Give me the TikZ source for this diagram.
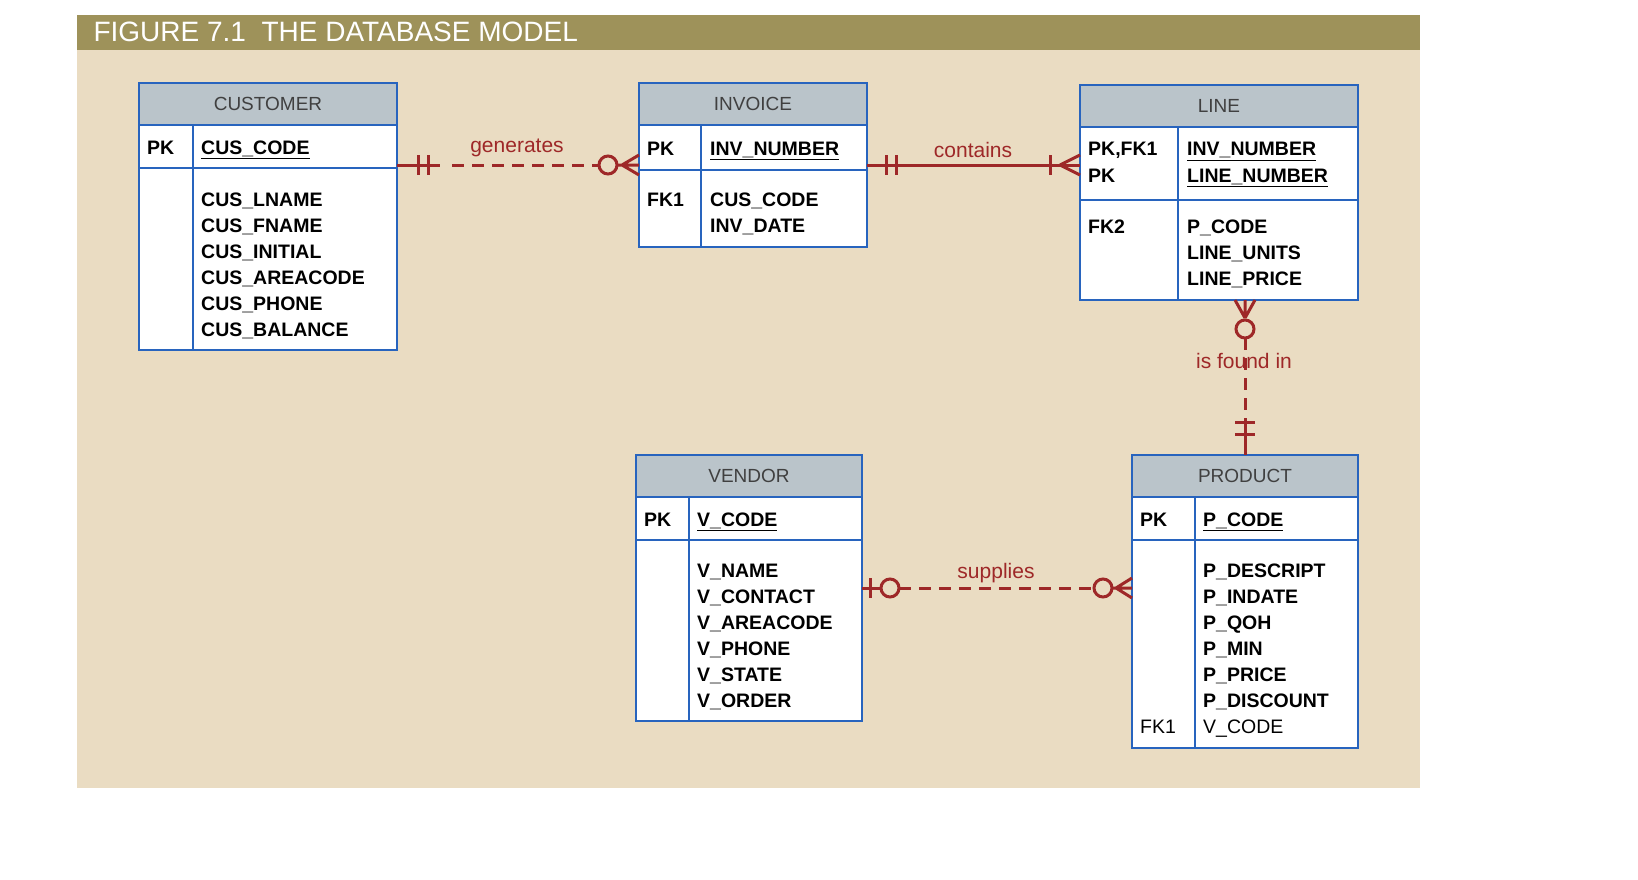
\documentclass[tikz,border=0pt]{standalone}
\usepackage{fontspec}
\setmainfont{Liberation Sans}
\definecolor{beige}{RGB}{234,220,194}
\definecolor{olive}{RGB}{158,146,90}
\definecolor{tblue}{RGB}{40,100,190}
\definecolor{hgray}{RGB}{186,196,202}
\definecolor{relred}{RGB}{158,40,40}
\tikzset{
  tbl/.style={draw=tblue, line width=2.5pt},
  hdr/.style={font=\fontsize{19}{19}\selectfont, text=black!75},
  att/.style={anchor=base west, inner sep=0pt, font=\fontsize{19.5}{20}\selectfont\bfseries},
  rel/.style={draw=relred, line width=3pt},
  reldash/.style={rel, dash pattern=on 12pt off 8pt},
  rlab/.style={text=relred, font=\fontsize{21}{21}\selectfont}
}
% box: name, x1, y1, x2, y2, header bottom, pk bottom, divider x, title
\newcommand{\erbox}[9]{%
  \coordinate (#1-nw) at (#2,#3);
  \coordinate (#1-se) at (#4,#5);
  \fill[white] (#2,#6) rectangle (#4,#5);
  \fill[hgray] (#2,#3) rectangle (#4,#6);
  \draw[tbl] (#2,#3) rectangle (#4,#5);
  \draw[tbl] (#2,#6) -- (#4,#6);
  \draw[tbl] (#2,#7) -- (#4,#7);
  \draw[tbl] (#8,#6) -- (#8,#5);
  \node[hdr] (#1) at ({(#2+#4)/2},{(#3+#6)/2}) {#9};
}
\begin{document}
\begin{tikzpicture}[x=1pt,y=-1pt]
\useasboundingbox (0,0) rectangle (1638,880);
\fill[beige] (77,15) rectangle (1420,788);
\fill[olive] (77,15) rectangle (1420,50);
\node[anchor=west, text=white, font=\fontsize{28}{28}\selectfont] (title) at (90,32) {FIGURE 7.1\ \ THE DATABASE MODEL};

% CUSTOMER
\erbox{cus}{139}{83}{397}{350}{125}{168}{193}{CUSTOMER}
\node[att] at (147,154) {PK};
\node[att] at (201,154) {\underline{CUS\_CODE}};
\foreach \t [count=\i from 0] in {CUS\_LNAME,CUS\_FNAME,CUS\_INITIAL,CUS\_AREACODE,CUS\_PHONE,CUS\_BALANCE}
  \node[att] at (201,206+26*\i) {\t};

% INVOICE
\erbox{inv}{639}{83}{867}{247}{125}{170}{701}{INVOICE}
\node[att] at (647,155) {PK};
\node[att] at (710,155) {\underline{INV\_NUMBER}};
\node[att] at (647,206) {FK1};
\node[att] at (710,206) {CUS\_CODE};
\node[att] at (710,232) {INV\_DATE};

% LINE
\erbox{line}{1080}{85}{1358}{300}{127}{200}{1178}{LINE}
\node[att] at (1088,156) {PK,FK1};
\node[att] at (1088,182) {PK};
\node[att] at (1187,156) {\underline{INV\_NUMBER}};
\node[att] at (1187,182) {\underline{LINE\_NUMBER}};
\node[att] at (1088,233) {FK2};
\foreach \t [count=\i from 0] in {P\_CODE,LINE\_UNITS,LINE\_PRICE}
  \node[att] at (1187,233+26*\i) {\t};

% VENDOR
\erbox{ven}{636}{455}{862}{721}{497}{540}{689}{VENDOR}
\node[att] at (644,526) {PK};
\node[att] at (697,526) {\underline{V\_CODE}};
\foreach \t [count=\i from 0] in {V\_NAME,V\_CONTACT,V\_AREACODE,V\_PHONE,V\_STATE,V\_ORDER}
  \node[att] at (697,577+26*\i) {\t};

% PRODUCT
\erbox{prod}{1132}{455}{1358}{748}{497}{540}{1195}{PRODUCT}
\node[att] at (1140,526) {PK};
\node[att] at (1203,526) {\underline{P\_CODE}};
\foreach \t [count=\i from 0] in {P\_DESCRIPT,P\_INDATE,P\_QOH,P\_MIN,P\_PRICE,P\_DISCOUNT}
  \node[att] at (1203,577+26*\i) {\t};
\node[att, font=\fontsize{19.5}{20}\selectfont] at (1140,733) {FK1};
\node[att, font=\fontsize{19.5}{20}\selectfont] at (1203,733) {V\_CODE};

% generates
\coordinate (g1) at (cus-se |- 0,165);
\coordinate (g2) at (inv-nw |- 0,165);
\draw[rel] (g1) -- ++(43,0);
\draw[reldash] ([xshift=55]g1) -- ([xshift=-40]g2);
\draw[rel] ([xshift=21]g1) ++(0,-10) -- ++(0,20);
\draw[rel] ([xshift=31]g1) ++(0,-10) -- ++(0,20);
\draw[rel] ([xshift=-31]g2) circle (9);
\draw[rel] ([xshift=-17]g2) -- ([yshift=-10]g2) ([xshift=-17]g2) -- ([yshift=10]g2) ([xshift=-22]g2) -- (g2);
\node[rlab] (gen) at (517,148) {generates};

% contains
\coordinate (c1) at (867,165);
\coordinate (c2) at (line-nw |- 0,165);
\draw[rel] (c1) -- (c2);
\draw[rel] ([xshift=19]c1) ++(0,-10) -- ++(0,20);
\draw[rel] ([xshift=29]c1) ++(0,-10) -- ++(0,20);
\draw[rel] ([xshift=-30]c2) ++(0,-10) -- ++(0,20);
\draw[rel] ([xshift=-20]c2) -- ([yshift=-10]c2) ([xshift=-20]c2) -- ([yshift=10]c2);
\node[rlab] (con) at (973,150) {contains};

% is found in
\coordinate (f1) at (1245,300);
\coordinate (f2) at (prod-nw -| 1245,0);
\draw[rel] ([yshift=-18]f1) -- ([xshift=-10]f1) ([yshift=-18]f1) -- ([xshift=10]f1) (f1) -- ([yshift=-18]f1);
\draw[rel] ([yshift=-29]f1) circle (9);
\draw[reldash] ([yshift=-38]f1) -- ([yshift=35]f2);
\draw[rel] ([yshift=35]f2) -- (f2);
\draw[rel] ([yshift=33]f2) ++(-10,0) -- ++(20,0);
\draw[rel] ([yshift=21]f2) ++(-10,0) -- ++(20,0);
\node[rlab] (fnd) at (1244,361) {is found in};

% supplies
\coordinate (s1) at (ven-se |- 0,588);
\coordinate (s2) at (prod-nw |- 0,588);
\draw[rel] (s1) -- ++(19,0);
\draw[rel] ([xshift=8]s1) ++(0,-10) -- ++(0,20);
\draw[rel] ([xshift=28]s1) circle (9);
\draw[reldash] ([xshift=37]s1) -- ([xshift=-38]s2);
\draw[rel] ([xshift=-29]s2) circle (9);
\draw[rel] ([xshift=-16]s2) -- ([yshift=-10]s2) ([xshift=-16]s2) -- ([yshift=10]s2) ([xshift=-20]s2) -- (s2);
\node[rlab] (sup) at (996,573) {supplies};
\end{tikzpicture}
\end{document}
